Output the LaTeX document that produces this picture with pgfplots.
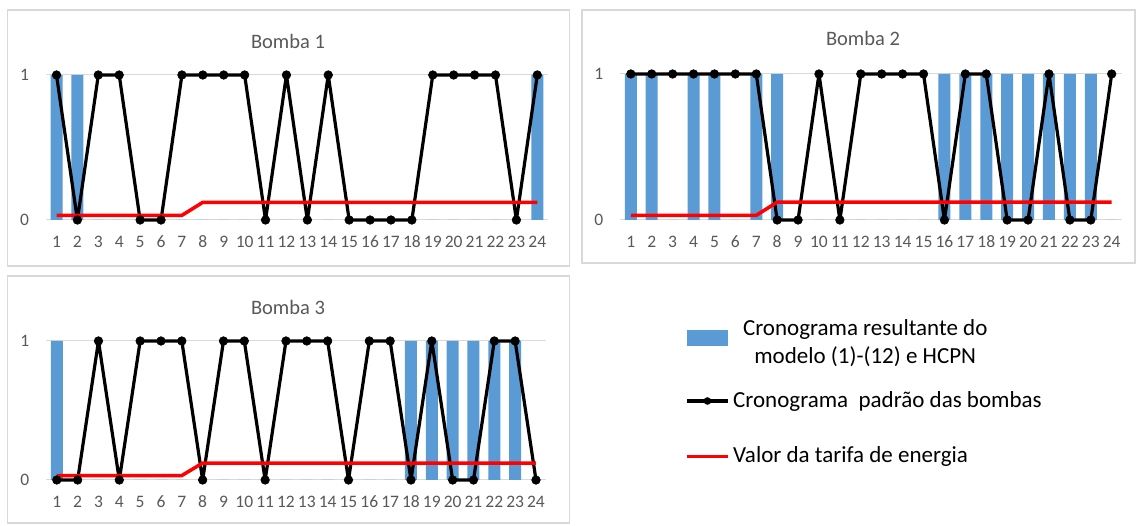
\documentclass[border=0pt]{standalone}
\usepackage{fontspec}
\setmainfont{Carlito}
\usepackage{pgfplots}
\usepackage{pgfplotstable}
\pgfplotsset{compat=1.18}
\definecolor{barblue}{HTML}{5B9BD5}
\definecolor{axgray}{HTML}{595959}
\definecolor{gridgray}{HTML}{D9D9D9}
\definecolor{framegray}{HTML}{D9D9D9}

\pgfplotstableread{
h b1bar b1std b2bar b2std b3bar b3std tarifa
1  1 1 1 1 1 0 0.032
2  1 0 1 1 0 0 0.032
3  0 1 0 1 0 1 0.032
4  0 1 1 1 0 0 0.032
5  0 0 1 1 0 1 0.032
6  0 0 0 1 0 1 0.032
7  0 1 1 1 0 1 0.032
8  0 1 1 0 0 0 0.122
9  0 1 0 0 0 1 0.122
10 0 1 0 1 0 1 0.122
11 0 0 0 0 0 0 0.122
12 0 1 0 1 0 1 0.122
13 0 0 0 1 0 1 0.122
14 0 1 0 1 0 1 0.122
15 0 0 0 1 0 0 0.122
16 0 0 1 0 0 1 0.122
17 0 0 1 1 0 1 0.122
18 0 0 1 1 1 0 0.122
19 0 1 1 0 1 1 0.122
20 0 1 1 0 1 0 0.122
21 0 1 1 1 1 0 0.122
22 0 1 1 0 1 1 0.122
23 0 0 1 0 1 1 0.122
24 1 1 0 1 0 0 0.122
}\dados

\pgfplotsset{
  bomba/.style={
    scale only axis, anchor=south west,
    xmin=0.5, xmax=24.5, ymin=0, ymax=1,
    clip=false,
    axis line style={draw=none},
    major tick length=0pt, tick style={draw=none},
    xtick={1,...,24}, ytick={0,1},
    ymajorgrids, grid style={gridgray, line width=1pt},
    ticklabel style={font=\fontsize{17.5}{20}\selectfont, text=axgray},
    /pgf/number format/assume math mode=true,
    xticklabel style={anchor=center, yshift=-21.8pt},
    yticklabel style={anchor=center, xshift=-21.5pt},
  },
  barstyle/.style={ybar, bar width=12pt, fill=barblue, draw=none},
  stdstyle/.style={black, line width=3.2pt, line join=round, mark=*, mark size=4.3pt,
    mark options={line width=0.6pt, fill=black, draw=black}},
  tarstyle/.style={red, line width=3.5pt, line join=round, no marks},
}

\begin{document}
\begin{tikzpicture}
\fill[white, use as bounding box] (0pt,0pt) rectangle (1138pt,526pt);
% frames
\draw[framegray, line width=1.5pt] (7.3pt,516pt) rectangle (569.5pt,260pt);
\draw[framegray, line width=1.5pt] (582pt,516pt) rectangle (1135pt,263pt);
\draw[framegray, line width=1.5pt] (7.3pt,250pt) rectangle (569.5pt,3pt);

% Bomba 1
\begin{axis}[bomba, at={(46.05pt,306pt)}, width=501.7pt, height=145pt]
\addplot[barstyle] table[x=h, y=b1bar]{\dados};
\addplot[stdstyle] table[x=h, y=b1std]{\dados};
\addplot[tarstyle] table[x=h, y=tarifa]{\dados};
\end{axis}

% Bomba 2
\begin{axis}[bomba, at={(620.35pt,306pt)}, width=501.8pt, height=146pt]
\addplot[barstyle] table[x=h, y=b2bar]{\dados};
\addplot[stdstyle] table[x=h, y=b2std]{\dados};
\addplot[tarstyle] table[x=h, y=tarifa]{\dados};
\end{axis}

% Bomba 3
\begin{axis}[bomba, at={(46.4pt,46pt)}, width=500pt, height=139pt,
  legend style={at={(1.2776,1.2025)}, anchor=north west, draw=none, fill=none,
    inner sep=0pt, outer sep=0pt, row sep=0pt, /tikz/column sep=3.5pt,
    nodes={inner sep=0pt, text depth=, font=\fontsize{23}{27.4}\selectfont, text=black}},
  legend cell align=left]
\addplot[barstyle, legend image code/.code={\fill[barblue] (0pt,-3pt) rectangle (41pt,13pt);}]
  table[x=h, y=b3bar]{\dados};
\addlegendentry{\parbox[c][60.3pt][c]{264pt}{\centering Cronograma resultante do\\ modelo (1)-(12) e HCPN}}
\addplot[stdstyle, legend image code/.code={\draw[black, line width=3.2pt, mark=*, mark size=3.5pt, mark options={fill=black, line width=0.5pt}, mark repeat=2, mark phase=2] plot coordinates {(0pt,0pt) (20.5pt,0pt) (41pt,0pt)};}]
  table[x=h, y=b3std]{\dados};
\addlegendentry{\parbox[c][55.7pt][c]{320pt}{Cronograma\ \ padrão das bombas}}
\addplot[tarstyle, legend image code/.code={\draw[red, line width=3.5pt] (0pt,0pt) -- (41pt,0pt);}]
  table[x=h, y=tarifa]{\dados};
\addlegendentry{\parbox[c][55.7pt][c]{320pt}{Valor da tarifa de energia}}
\end{axis}

% titles
\node[font=\fontsize{20.5}{24}\selectfont, text=axgray] at (288pt,485pt) {Bomba 1};
\node[font=\fontsize{20.5}{24}\selectfont, text=axgray] at (863pt,488pt) {Bomba 2};
\node[font=\fontsize{20.5}{24}\selectfont, text=axgray] at (288pt,219pt) {Bomba 3};
\end{tikzpicture}
\end{document}
